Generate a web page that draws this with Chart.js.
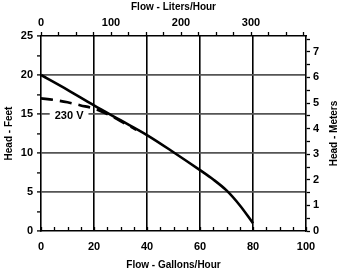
<!DOCTYPE html>
<html>
<head>
<meta charset="utf-8">
<script src="https://cdn.jsdelivr.net/npm/chart.js@4/dist/chart.umd.min.js"></script>
<style>
html,body{margin:0;padding:0;background:#fff;}
#wrap{width:345px;height:271px;}
</style>
</head>
<body>
<div id="wrap"><canvas id="c" width="345" height="271"></canvas></div>
<script>
// Data
const gallons   = [0, 10, 20, 30, 40, 50, 60, 65, 70, 75, 80];
const headFeet  = [20, 18.1, 16.1, 14.2, 12.3, 10.1, 7.8, 6.6, 5.2, 3.3, 1.0];
const dashGallons = [0, 5, 10, 15, 20, 25, 30, 35, 36];
const dashFeet    = [17.0, 16.8, 16.5, 16.1, 15.7, 15.0, 14.1, 13.15, 12.95];
const dashLabel = '230 V';
const gallonTicks = [0, 20, 40, 60, 80, 100];
const feetTicks   = [0, 5, 10, 15, 20, 25];
const literTicks  = [0, 100, 200, 300];
const meterTicks  = [0, 1, 2, 3, 4, 5, 6, 7];
const LITERS_PER_GALLON = 3.78541;
const FEET_PER_METER = 3.28084;

const FONT = '"Liberation Sans", Arial, sans-serif';
const tickFont = {family: FONT, size: 11, weight: 'bold'};
const titleFont = {family: FONT, size: 10, weight: 'bold'};
const near = (v, arr) => arr.some(a => Math.abs(a - v) < 1e-6);

const solid = gallons.map((g, i) => ({x: g, y: headFeet[i]}));
const dashed = dashGallons.map((g, i) => ({x: g, y: dashFeet[i]}));

const extras = {
  id: 'extras',
  afterDatasetsDraw(chart) {
    const {ctx, scales} = chart;
    const xs = scales.x, ys = scales.y;
    ctx.save();
    // inward minor ticks on bottom axis
    ctx.strokeStyle = '#000';
    ctx.lineWidth = 1.3;
    for (let v = 0; v <= 100; v += 5) {
      const px = Math.round(xs.getPixelForValue(v)) + 0.5;
      ctx.beginPath();
      ctx.moveTo(px, ys.bottom);
      ctx.lineTo(px, ys.bottom - 4);
      ctx.stroke();
    }
    // 230 V label with white box
    ctx.font = 'bold 11px ' + FONT;
    const lx = xs.getPixelForValue(10.6), ly = ys.getPixelForValue(14.8);
    const w = ctx.measureText(dashLabel).width;
    ctx.fillStyle = '#fff';
    ctx.fillRect(lx - w / 2 - 5, ly - 6, w + 10, 12);
    ctx.fillStyle = '#000';
    ctx.textAlign = 'center';
    ctx.textBaseline = 'middle';
    ctx.fillText(dashLabel, lx, ly);
    // right axis title, reading bottom-to-top
    const ry = (ys.top + ys.bottom) / 2;
    ctx.translate(334, ry);
    ctx.rotate(-Math.PI / 2);
    ctx.font = 'bold 10px ' + FONT;
    ctx.fillText('Head - Meters', 0, 0);
    ctx.restore();
  }
};

new Chart(document.getElementById('c'), {
  type: 'line',
  data: {
    datasets: [
      {data: solid, borderColor: '#000', borderWidth: 2.6, pointRadius: 0,
       cubicInterpolationMode: 'monotone', xAxisID: 'x', yAxisID: 'y'},
      {data: dashed, borderColor: '#000', borderWidth: 2.6, borderDash: [12, 7], pointRadius: 0,
       cubicInterpolationMode: 'monotone', xAxisID: 'x', yAxisID: 'y'}
    ]
  },
  options: {
    responsive: false,
    animation: false,
    layout: {padding: 0},
    plugins: {legend: {display: false}, tooltip: {enabled: false}},
    scales: {
      x: {
        type: 'linear', position: 'bottom', min: 0, max: 100,
        ticks: {stepSize: 5, autoSkip: false, maxRotation: 0, padding: 9, color: '#000', font: tickFont,
                callback: v => near(v, gallonTicks) ? v : ''},
        grid: {drawTicks: false, lineWidth: 1.6,
               color: c => (c.tick && c.tick.value % 20 === 0 && c.tick.value > 0 && c.tick.value < 100) ? '#000' : 'rgba(0,0,0,0)'},
        border: {color: '#000', width: 1.6},
        title: {display: true, text: 'Flow - Gallons/Hour', color: '#000', font: titleFont, padding: {top: 0, bottom: 0}},
        afterFit: s => { s.height = 40; }
      },
      x2: {
        type: 'linear', position: 'top', min: 0, max: 100 * LITERS_PER_GALLON,
        ticks: {stepSize: 25, includeBounds: false, autoSkip: false, maxRotation: 0, padding: 2, color: '#000', font: tickFont,
                callback: v => near(v, literTicks) ? v : ''},
        grid: {drawOnChartArea: false, drawTicks: true, tickLength: 4, tickWidth: 1.3, tickColor: '#000'},
        border: {color: '#000', width: 1.6},
        title: {display: true, text: 'Flow - Liters/Hour', color: '#000', font: titleFont, padding: {top: 1, bottom: 0}},
        afterFit: s => { s.height = 36; }
      },
      y: {
        type: 'linear', position: 'left', min: 0, max: 25,
        ticks: {stepSize: 2.5, autoSkip: false, padding: 4, color: '#000', font: tickFont,
                callback: v => near(v, feetTicks) ? v : ''},
        grid: {drawTicks: true, tickLength: 4, tickWidth: 1.3, tickColor: '#000', lineWidth: 1.8,
               color: c => (c.tick && near(c.tick.value, [5, 10, 15, 20])) ? '#555' : 'rgba(0,0,0,0)'},
        border: {color: '#000', width: 1.6},
        title: {display: true, text: 'Head - Feet', color: '#000', font: titleFont, padding: {top: 3, bottom: 0}},
        afterFit: s => { s.width = 41; }
      },
      y2: {
        type: 'linear', position: 'right', min: 0, max: 25 / FEET_PER_METER,
        ticks: {stepSize: 0.5, includeBounds: false, autoSkip: false, padding: 3, color: '#000', font: tickFont,
                callback: v => near(v, meterTicks) ? v : ''},
        grid: {drawOnChartArea: false, drawTicks: true, tickLength: 4, tickWidth: 1.3, tickColor: '#000'},
        border: {color: '#000', width: 1.6},
        title: {display: false},
        afterFit: s => { s.width = 39; }
      }
    }
  },
  plugins: [extras]
});
</script>
</body>
</html>
